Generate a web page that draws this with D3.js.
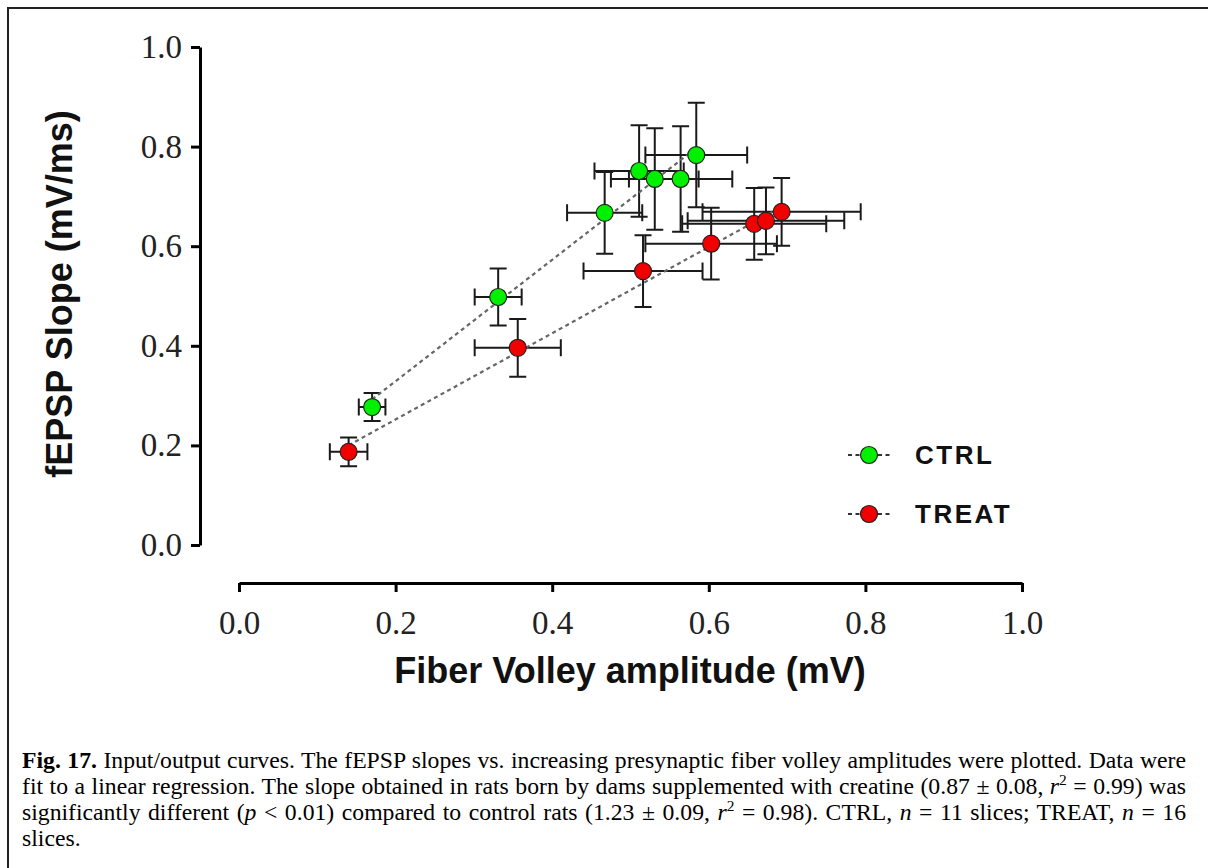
<!DOCTYPE html>
<html>
<head>
<meta charset="utf-8">
<script src="https://cdn.jsdelivr.net/npm/d3@7"></script>
<style>
  body { margin: 0; background: #fff; }
  #frame { position: absolute; left: 7px; top: 7px; width: 1220px; height: 880px;
           border-left: 2px solid #222; border-top: 2px solid #222; }
  #caption { position: absolute; left: 22px; top: 747px; width: 1164px;
             font-family: "Liberation Serif", "Times New Roman", serif; font-size: 20px;
             line-height: 26px; color: #000; }
  #caption div { text-align: justify; text-align-last: justify; white-space: nowrap; }
  #caption div.last { text-align-last: left; }
  sup { font-size: 0.65em; line-height: 0; }
</style>
</head>
<body>
<div id="frame"></div>
<svg id="chart" width="1208" height="868" style="position:absolute;left:0;top:0"></svg>
<div id="caption">
  <div><b>Fig. 17.</b> Input/output curves. The fEPSP slopes vs. increasing presynaptic fiber volley amplitudes were plotted. Data were</div>
  <div>fit to a linear regression. The slope obtained in rats born by dams supplemented with creatine (0.87 ± 0.08, <i>r</i><sup>2</sup> = 0.99) was</div>
  <div>significantly different (<i>p</i> &lt; 0.01) compared to control rats (1.23 ± 0.09, <i>r</i><sup>2</sup> = 0.98). CTRL, <i>n</i> = 11 slices; TREAT, <i>n</i> = 16</div>
  <div class="last">slices.</div>
</div>
<script>
// group names
const groups = ["CTRL", "TREAT"];

// CTRL: fiber volley (mV), fEPSP slope (mV/ms) and SEM
const ctrlX = [0.170, 0.331, 0.467, 0.511, 0.531, 0.564, 0.584];
const ctrlY = [0.277, 0.498, 0.667, 0.751, 0.735, 0.735, 0.783];
const ctrlXErr = [0.017, 0.030, 0.048, 0.057, 0.056, 0.066, 0.065];
const ctrlYErr = [0.028, 0.057, 0.082, 0.092, 0.102, 0.106, 0.105];

// TREAT
const treatX = [0.140, 0.356, 0.516, 0.603, 0.658, 0.673, 0.693];
const treatY = [0.187, 0.396, 0.550, 0.605, 0.645, 0.651, 0.669];
const treatXErr = [0.024, 0.055, 0.076, 0.084, 0.092, 0.100, 0.101];
const treatYErr = [0.029, 0.058, 0.072, 0.072, 0.072, 0.067, 0.068];

const xTicks = [0, 0.2, 0.4, 0.6, 0.8, 1.0];
const yTicks = [0, 0.2, 0.4, 0.6, 0.8, 1.0];

const colors = { CTRL: "#00f000", TREAT: "#f20000" };

const series = [
  { name: "CTRL", x: ctrlX, y: ctrlY, xe: ctrlXErr, ye: ctrlYErr },
  { name: "TREAT", x: treatX, y: treatY, xe: treatXErr, ye: treatYErr }
];

// size the caption font so the widest line nearly fills the box, then justify
(function fitCaption() {
  const cap = document.getElementById("caption");
  const lines = [...cap.querySelectorAll("div")];
  lines.forEach(l => { l.style.textAlign = "left"; l.style.textAlignLast = "left"; });
  let widest = 0;
  lines.forEach(l => {
    const s = document.createElement("span");
    s.innerHTML = l.innerHTML;
    l.replaceChildren(s);
    widest = Math.max(widest, s.getBoundingClientRect().width);
    l.innerHTML = s.innerHTML;
  });
  lines.forEach(l => { l.style.textAlign = ""; l.style.textAlignLast = ""; });
  const fs = parseFloat(getComputedStyle(cap).fontSize);
  cap.style.fontSize = (fs * 1156 / widest) + "px";
})();

const svg = d3.select("#chart");

const x = d3.scaleLinear().domain([0, 1]).range([239, 1022]);
const y = d3.scaleLinear().domain([0, 1]).range([545, 47]);

// axes (offset, Prism style)
const yAxis = svg.append("g")
  .attr("transform", "translate(200,0)")
  .call(d3.axisLeft(y).tickValues(yTicks).tickFormat(d3.format(".1f")).tickSize(9).tickSizeOuter(0).tickPadding(9));
const xAxis = svg.append("g")
  .attr("transform", "translate(0,583)")
  .call(d3.axisBottom(x).tickValues(xTicks).tickFormat(d3.format(".1f")).tickSize(9).tickSizeOuter(0).tickPadding(19));

[yAxis, xAxis].forEach(g => {
  g.select(".domain").attr("stroke", "#000").attr("stroke-width", 3);
  g.selectAll(".tick line").attr("stroke", "#000").attr("stroke-width", 3);
  g.selectAll(".tick text")
    .attr("fill", "#222")
    .style("font-family", "'Liberation Serif', 'Times New Roman', serif")
    .style("font-size", "33px");
});

svg.append("text")
  .attr("transform", "translate(72,294) rotate(-90)")
  .attr("text-anchor", "middle")
  .style("font-family", "'Liberation Sans', Arial, sans-serif")
  .style("font-weight", "bold")
  .style("font-size", "36px")
  .attr("fill", "#111")
  .text("fEPSP Slope (mV/ms)");

svg.append("text")
  .attr("x", 630).attr("y", 683)
  .attr("text-anchor", "middle")
  .style("font-family", "'Liberation Sans', Arial, sans-serif")
  .style("font-weight", "bold")
  .style("font-size", "36px")
  .attr("fill", "#111")
  .text("Fiber Volley amplitude (mV)");

// linear regression over each group's x range
function fit(xs, ys) {
  const mx = d3.mean(xs), my = d3.mean(ys);
  const sxy = d3.sum(xs, (v, i) => (v - mx) * (ys[i] - my));
  const sxx = d3.sum(xs, v => (v - mx) ** 2);
  const b = sxy / sxx, a = my - b * mx;
  const [x0, x1] = d3.extent(xs);
  return [[x0, a + b * x0], [x1, a + b * x1]];
}

const capW = 8.5;

series.forEach(s => {
  const pts = s.x.map((v, i) => ({ x: v, y: s.y[i], xe: s.xe[i], ye: s.ye[i] }));
  const eb = svg.append("g").attr("stroke", "#1a1a1a").attr("stroke-width", 2).attr("fill", "none");
  pts.forEach(p => {
    const cx = x(p.x), cy = y(p.y);
    const xl = x(p.x - p.xe), xr = x(p.x + p.xe);
    const yt = y(p.y + p.ye), yb = y(p.y - p.ye);
    eb.append("path").attr("d",
      `M${xl},${cy}H${xr}M${xl},${cy - capW}V${cy + capW}M${xr},${cy - capW}V${cy + capW}` +
      `M${cx},${yt}V${yb}M${cx - capW},${yt}H${cx + capW}M${cx - capW},${yb}H${cx + capW}`);
  });
});

series.forEach(s => {
  svg.append("path")
    .attr("d", d3.line().x(d => x(d[0])).y(d => y(d[1]))(fit(s.x, s.y)))
    .attr("stroke", "#666").attr("stroke-width", 2.2).attr("stroke-dasharray", "4,3.5")
    .attr("fill", "none");
});

series.forEach(s => {
  svg.append("g").selectAll("circle")
    .data(s.x.map((v, i) => [v, s.y[i]]))
    .join("circle")
    .attr("cx", d => x(d[0])).attr("cy", d => y(d[1]))
    .attr("r", 8.5)
    .attr("fill", colors[s.name])
    .attr("stroke", "#222").attr("stroke-width", 1.2);
});

// legend
const legend = svg.append("g");
groups.forEach((name, i) => {
  const ly = 455 + i * 59;
  legend.append("line")
    .attr("x1", 848).attr("x2", 892).attr("y1", ly).attr("y2", ly)
    .attr("stroke", "#333").attr("stroke-width", 2).attr("stroke-dasharray", "4,3.5");
  legend.append("circle")
    .attr("cx", 869).attr("cy", ly).attr("r", 8.5)
    .attr("fill", colors[name]).attr("stroke", "#222").attr("stroke-width", 1.2);
  legend.append("text")
    .attr("x", 915).attr("y", ly + 9)
    .style("font-family", "'Liberation Sans', Arial, sans-serif")
    .style("font-weight", "bold")
    .style("font-size", "26px")
    .style("letter-spacing", "2.5px")
    .attr("fill", "#111")
    .text(name);
});
</script>
</body>
</html>
